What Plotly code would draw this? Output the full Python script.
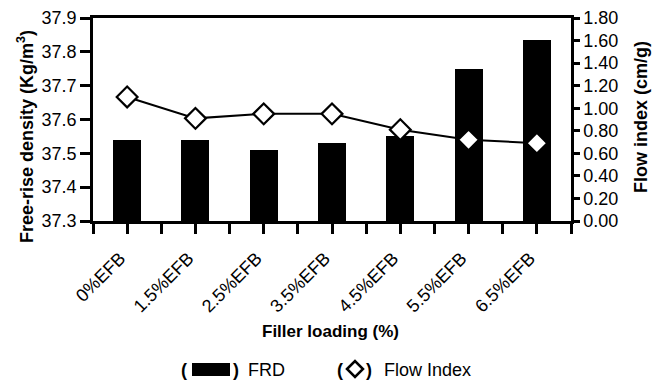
import plotly.graph_objects as go

categories = ["0%EFB", "1.5%EFB", "2.5%EFB", "3.5%EFB", "4.5%EFB", "5.5%EFB", "6.5%EFB"]
frd = [37.54, 37.54, 37.51, 37.53, 37.55, 37.75, 37.835]
flow_index = [1.10, 0.91, 0.95, 0.95, 0.81, 0.72, 0.69]
left_ticks = [37.3, 37.4, 37.5, 37.6, 37.7, 37.8, 37.9]
right_ticks = [0.0, 0.2, 0.4, 0.6, 0.8, 1.0, 1.2, 1.4, 1.6, 1.8]

xpos = list(range(len(categories)))
FONT = "Liberation Sans, Arial, sans-serif"

L, R, T, B = 93, 82, 18, 159
W, H = 653, 380

fig = go.Figure()
fig.add_trace(go.Bar(x=xpos, y=frd, width=0.41, marker=dict(color="black", line=dict(width=0)),
                     name="FRD", showlegend=False))
fig.add_trace(go.Scatter(x=xpos, y=flow_index, yaxis="y2", mode="lines+markers",
                         line=dict(color="black", width=2),
                         marker=dict(symbol="diamond", size=16, color="white",
                                     line=dict(color="black", width=2.2)),
                         name="Flow Index", showlegend=False))

fig.update_layout(
    width=W, height=H,
    margin=dict(l=L, r=R, t=T, b=B, autoexpand=False),
    paper_bgcolor="white", plot_bgcolor="white",
    font=dict(family=FONT, size=18, color="black"),
    bargap=0,
    xaxis=dict(range=[-0.5, 6.5], tickmode="array", tickvals=xpos,
               ticktext=[c + "\u00a0\u00a0" for c in categories],
               tickangle=-45, ticks="outside", ticklen=10, tickwidth=2.5, tickcolor="black",
               showline=True, linewidth=2.5, linecolor="black", mirror=True,
               showgrid=False, zeroline=False, automargin=False,
               tickfont=dict(size=18), ticklabelstandoff=0,
               minor=dict(tickmode="array", tickvals=[i - 0.5 for i in range(len(categories) + 1)],
                          ticks="outside", ticklen=10, tickwidth=2.5, tickcolor="black",
                          showgrid=False)),
    yaxis=dict(range=[37.3, 37.9], tickmode="array", tickvals=left_ticks,
               ticktext=[f"{v:.1f}" for v in left_ticks],
               ticks="outside", ticklen=10, tickwidth=2.5, tickcolor="black",
               showline=True, linewidth=2.5, linecolor="black", automargin=False,
               showgrid=False, zeroline=False, tickfont=dict(size=18)),
    yaxis2=dict(range=[0, 1.8], overlaying="y", side="right", tickmode="array",
                tickvals=right_ticks, ticktext=[f"{v:.2f}" for v in right_ticks],
                ticks="outside", ticklen=6, tickwidth=2.5, tickcolor="black",
                showline=True, linewidth=2.5, linecolor="black", automargin=False,
                showgrid=False, zeroline=False, tickfont=dict(size=18)),
)

plot_w = W - L - R
plot_h = H - T - B
def px2x(x):
    return (x - L) / plot_w
def px2y(y):
    return (H - B - y) / plot_h

# axis titles
fig.add_annotation(xref="paper", yref="paper", x=px2x(330), y=px2y(331), showarrow=False,
                   text="<b>Filler loading (%)</b>", font=dict(size=17, family=FONT),
                   xanchor="center", yanchor="middle")
fig.add_annotation(xref="paper", yref="paper", x=px2x(25), y=px2y(137), showarrow=False,
                   text="<b>Free-rise density (Kg/m<sup>3</sup>)</b>", textangle=-90,
                   font=dict(size=18, family=FONT), xanchor="center", yanchor="middle")
fig.add_annotation(xref="paper", yref="paper", x=px2x(641), y=px2y(117), showarrow=False,
                   text="<b>Flow index (cm/g)</b>", textangle=-90,
                   font=dict(size=18, family=FONT), xanchor="center", yanchor="middle")

# legend
ly = 370
anns = [
    dict(text="<b>(</b>", x=px2x(184), y=px2y(ly)),
    dict(text="<b>)</b>", x=px2x(236), y=px2y(ly)),
    dict(text="FRD", x=px2x(266), y=px2y(ly)),
    dict(text="<b>(</b>", x=px2x(340), y=px2y(ly)),
    dict(text="<b>)</b>", x=px2x(369), y=px2y(ly)),
    dict(text="Flow Index", x=px2x(427), y=px2y(ly)),
]
for a in anns:
    fig.add_annotation(xref="paper", yref="paper", showarrow=False,
                       xanchor="center", yanchor="middle", font=dict(size=18, family=FONT), **a)

fig.add_shape(type="rect", xref="paper", yref="paper",
              x0=px2x(192), x1=px2x(230), y0=px2y(376), y1=px2y(363),
              fillcolor="black", line=dict(width=0))
cx, cy, r = 355, 369, 8
fig.add_shape(type="path", xref="paper", yref="paper",
              path=f"M {px2x(cx-r)} {px2y(cy)} L {px2x(cx)} {px2y(cy-r)} L {px2x(cx+r)} {px2y(cy)} L {px2x(cx)} {px2y(cy+r)} Z",
              fillcolor="white", line=dict(color="black", width=2.5))

fig.write_html("out.html", config={"displayModeBar": False},
               post_script="document.body.style.margin='0';document.body.style.overflow='hidden';")
